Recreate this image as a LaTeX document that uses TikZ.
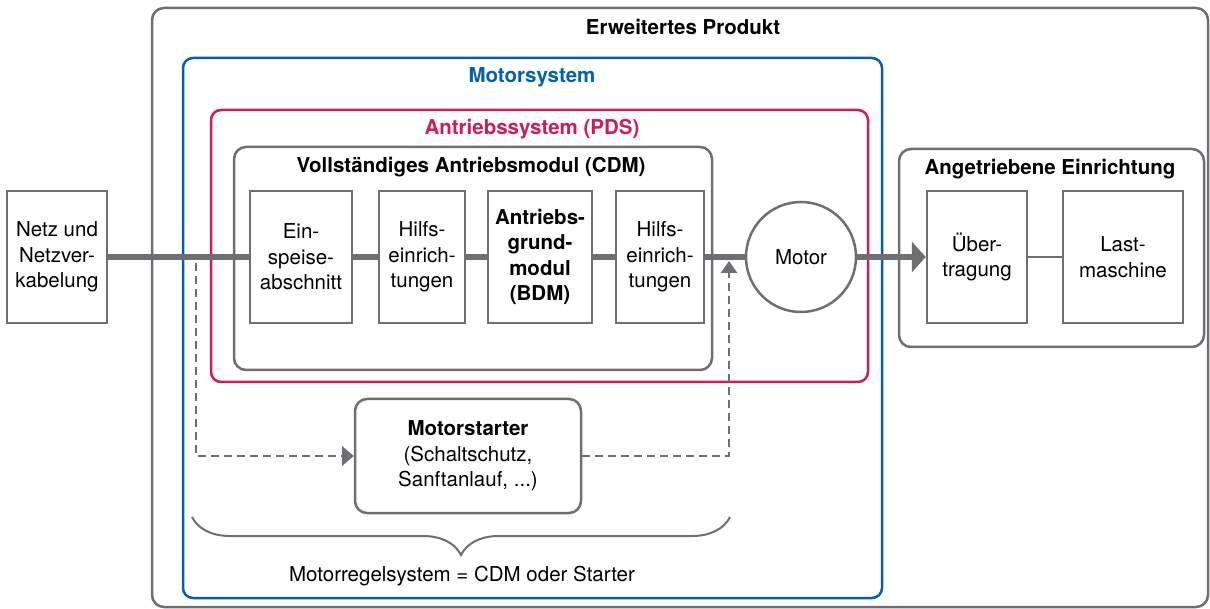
\documentclass[tikz,border=0pt]{standalone}
\usepackage{fontspec}
\setmainfont{TeX Gyre Heros}
\usetikzlibrary{arrows.meta,decorations.pathreplacing}
\definecolor{grau}{HTML}{6F6F73}
\definecolor{blau}{HTML}{0062AC}
\definecolor{rot}{HTML}{D2195B}
\newcommand{\txt}{\fontsize{20.5}{25.5}\selectfont}
\begin{document}
\begin{tikzpicture}[x=1pt, y=-1pt,
    rahmen/.style={draw=grau, line width=2.5pt, rounded corners=12pt, inner sep=0},
    kasten/.style={draw=grau, line width=2.5pt, align=center, inner sep=0, font=\txt, minimum height=132pt},
    titel/.style={font=\txt\bfseries},
    leitung/.style={draw=grau, line width=6pt},
    strich/.style={draw=grau, line width=2.5pt, dash pattern=on 8pt off 5pt}]
    \useasboundingbox (0,0) rectangle (1210,609);

    % Rahmen (de fuera hacia dentro)
    \node[rahmen, minimum width=1056pt, minimum height=599pt] (produkt) at (680,307.5) {};
    \node[titel] at (683,27) {Erweitertes Produkt};
    \node[rahmen, draw=blau, rounded corners=10pt, minimum width=699pt, minimum height=540pt] (motorsys) at (532.5,328) {};
    \node[titel, text=blau] at (532,77) {Motorsystem};
    \node[rahmen, draw=rot, rounded corners=10pt, minimum width=657pt, minimum height=272pt] (pds) at (539.5,246) {};
    \node[titel, text=rot] at (532,129) {Antriebssystem (PDS)};
    \node[rahmen, minimum width=478pt, minimum height=223pt] (cdm) at (473,258.5) {};
    \node[titel] at (471,167) {Vollständiges Antriebsmodul (CDM)};
    \node[rahmen, minimum width=305pt, minimum height=198pt] (angetr) at (1051.5,248) {};
    \node[titel] at (1050,169) {Angetriebene Einrichtung};

    % Bloques
    \node[kasten, minimum width=100pt] (netz) at (57,257) {Netz und\\Netzver-\\kabelung};
    \node[kasten, minimum width=102pt] (einsp) at (301,257) {Ein-\\speise-\\abschnitt};
    \node[kasten, minimum width=86pt] (hilfsa) at (422,257) {Hilfs-\\einrich-\\tungen};
    \node[kasten, minimum width=104pt, font=\txt\bfseries] (bdm) at (540,257) {Antriebs-\\grund-\\modul\\(BDM)};
    \node[kasten, minimum width=88pt] (hilfsb) at (660,257) {Hilfs-\\einrich-\\tungen};
    \node[kasten, circle, minimum size=110pt] (motor) at (801,257) {Motor};
    \node[kasten, minimum width=100pt] (uebertr) at (977,257) {Über-\\tragung};
    \node[kasten, minimum width=120pt] (last) at (1123,257) {Last-\\maschine};
    \node[kasten, rounded corners=12pt, minimum width=226pt, minimum height=114pt] (starter) at (468,456)
      {\textbf{Motorstarter}\\(Schaltschutz,\\Sanftanlauf, ...)};

    % Leitung principal
    \draw[leitung] (netz.east) -- (einsp.west);
    \draw[leitung] (einsp.east) -- (hilfsa.west);
    \draw[leitung] (hilfsa.east) -- (bdm.west);
    \draw[leitung] (bdm.east) -- (hilfsb.west);
    \draw[leitung] (hilfsb.east) -- (motor.west);
    \draw[leitung, -{Triangle[length=14pt,width=30pt]}] (motor.east) -- (uebertr.west);
    \draw[draw=grau, line width=2.5pt] (uebertr.east) -- (last.west);

    % Camino del arrancador (discontinuo)
    \coordinate (abzw) at (196,263);
    \coordinate (rueck) at (729,261);
    \draw[strich, -{Triangle[length=12pt,width=20pt]}] (abzw) |- (starter.west);
    \draw[strich, -{Triangle[length=12pt,width=16pt]}] (starter.east) -| (rueck);

    % Llave y texto
    \draw[draw=grau, line width=2pt, decorate, decoration={brace, mirror, amplitude=38pt}]
      (192,517) -- (730,517);
    \node[font=\txt] (regel) at (462,576) {Motorregelsystem = CDM oder Starter};
  \end{tikzpicture}
\end{document}
